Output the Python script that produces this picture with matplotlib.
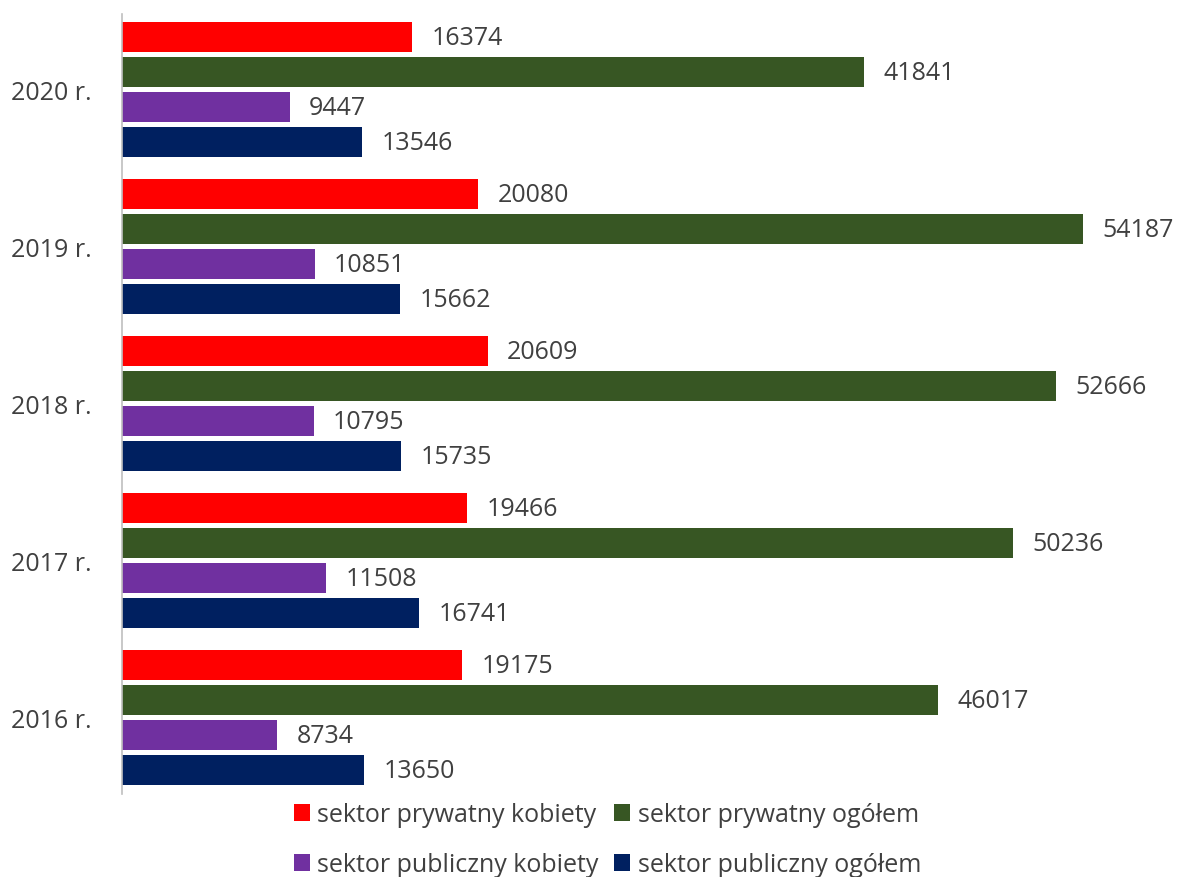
import matplotlib
matplotlib.use("Agg")
import matplotlib.pyplot as plt
import numpy as np

plt.rcParams['font.family'] = ['Open Sans', 'DejaVu Sans']

# Data (top to bottom)
years = ['2020 r.', '2019 r.', '2018 r.', '2017 r.', '2016 r.']
prywatny_kobiety = [16374, 20080, 20609, 19466, 19175]
prywatny_ogolem = [41841, 54187, 52666, 50236, 46017]
publiczny_kobiety = [9447, 10851, 10795, 11508, 8734]
publiczny_ogolem = [13546, 15662, 15735, 16741, 13650]

series = [
    ('sektor prywatny kobiety', prywatny_kobiety, '#FF0000'),
    ('sektor prywatny ogółem', prywatny_ogolem, '#375623'),
    ('sektor publiczny kobiety', publiczny_kobiety, '#7030A0'),
    ('sektor publiczny ogółem', publiczny_ogolem, '#002060'),
]

txt = '#404040'
fig = plt.figure(figsize=(11.77, 8.78), dpi=100)
ax = fig.add_axes([0.1037, 0.0945, 0.88, 0.888])

group_step = 157
bar_step = 35
bar_h = 30
base = np.arange(len(years)) * group_step + 23

handles = []
for j, (name, vals, col) in enumerate(series):
    b = ax.barh(base + j * bar_step, vals, height=bar_h, color=col, label=name)
    ax.bar_label(b, labels=[str(v) for v in vals], padding=14, fontsize=18, color=txt)
    handles.append(b)

ax.set_ylim(780, 0)
ax.set_xlim(0, 58400)
ax.set_yticks(base + 1.5 * bar_step)
ax.set_yticklabels(years, fontsize=18, color=txt)
ax.tick_params(axis='y', length=0, pad=22)
ax.set_xticks([])
for s in ['top', 'right', 'bottom']:
    ax.spines[s].set_visible(False)
ax.spines['left'].set_color('#BFBFBF')
ax.spines['left'].set_linewidth(1.2)

# legend filled column-wise, so reorder to get rows: red/green, purple/navy
order = [0, 2, 1, 3]
fig.legend(handles=[handles[i] for i in order], loc='upper center',
           bbox_to_anchor=(0.516, 0.111), ncol=2,
           frameon=False, fontsize=18, handlelength=0.65, handleheight=0.65,
           handletextpad=0.3, columnspacing=0.6, labelspacing=1.0, labelcolor=txt)

fig.savefig('out.png', dpi=100)
